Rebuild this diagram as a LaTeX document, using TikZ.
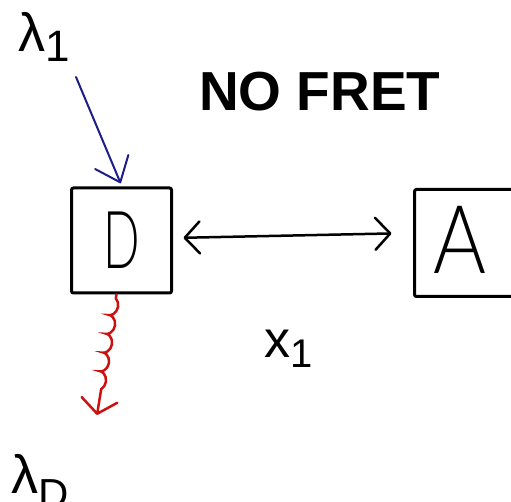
\documentclass[tikz,border=0pt]{standalone}
\usepackage{fontspec}
\usepackage{graphicx}
\setmainfont{Liberation Sans}
\IfFontExistsTF{Lato Light}{\newfontfamily\handfont{Lato Light}}{\newfontfamily\handfont{Liberation Sans}}
\usetikzlibrary{arrows.meta,decorations.pathmorphing}
\begin{document}
\begin{tikzpicture}[x=1pt, y=-1pt,
    box/.style={draw, line width=3pt, rounded corners=2pt, inner sep=0pt},
    link/.style={line width=2.5pt, line cap=round, {Straight Barb[length=15pt,width=32pt,round]}-{Straight Barb[length=15pt,width=32pt,round]}},
    excite/.style={draw=blueColour, line width=2pt, line cap=round, -{Straight Barb[length=22pt,width=36pt,round]}},
    emit/.style={draw=redColour, line width=2.5pt, line cap=round, -{Straight Barb[length=14pt,width=36pt,round]},
        decorate, decoration={coil, amplitude=3.5pt, segment length=19pt, aspect=0.9, pre length=4pt, post length=8pt}},
    label/.style={anchor=base west, inner sep=0pt}]
    % Define colours
    \definecolor{blueColour}{HTML}{1C1C8A}
    \definecolor{redColour}{HTML}{CC1010}

    % Fix the page
    \useasboundingbox (0,0) rectangle (511,502);
    \clip (0,0) rectangle (511,502);

    % Draw donor and acceptor
    \node[box, minimum width=100pt, minimum height=105pt] (D) at (121.5,240.5)
        {\fontsize{80}{80}\handfont\scalebox{0.6}[1]{D}};
    \node[box, minimum width=99pt, minimum height=107pt] (A) at (464,243)
        {\fontsize{95}{95}\handfont\raisebox{6pt}{\hspace*{-9pt}\scalebox{0.85}[1]{A}}};

    % Draw the distance between them
    \draw[link, shorten <=10.5pt, shorten >=21.5pt] ([yshift=2.5pt]D.east) -- ([yshift=10pt]A.west);

    % Draw the excitation and the emission
    \coordinate (lam1) at (76,77);
    \coordinate (lamD) at (97,415);
    \draw[excite, shorten >=3.5pt] (lam1) -- ([xshift=0.5pt]D.north);
    \draw[emit] ([xshift=-5pt]D.south) -- (lamD);

    % Labels
    \node[label] (title) at (199,111) {\fontsize{55}{55}\selectfont\bfseries NO FRET};
    \node[label] (l1) at (18,52) {\fontsize{54}{54}\selectfont λ\raisebox{-10pt}{\fontsize{44}{44}\selectfont 1}};
    \node[label] (lD) at (11,493) {\fontsize{54}{54}\selectfont λ\raisebox{-15pt}{\fontsize{42}{42}\selectfont D}};
    \node[label] (x1) at (264,357) {\fontsize{52}{52}\selectfont x\raisebox{-10pt}{\fontsize{40}{40}\selectfont 1}};

\end{tikzpicture}
\end{document}
